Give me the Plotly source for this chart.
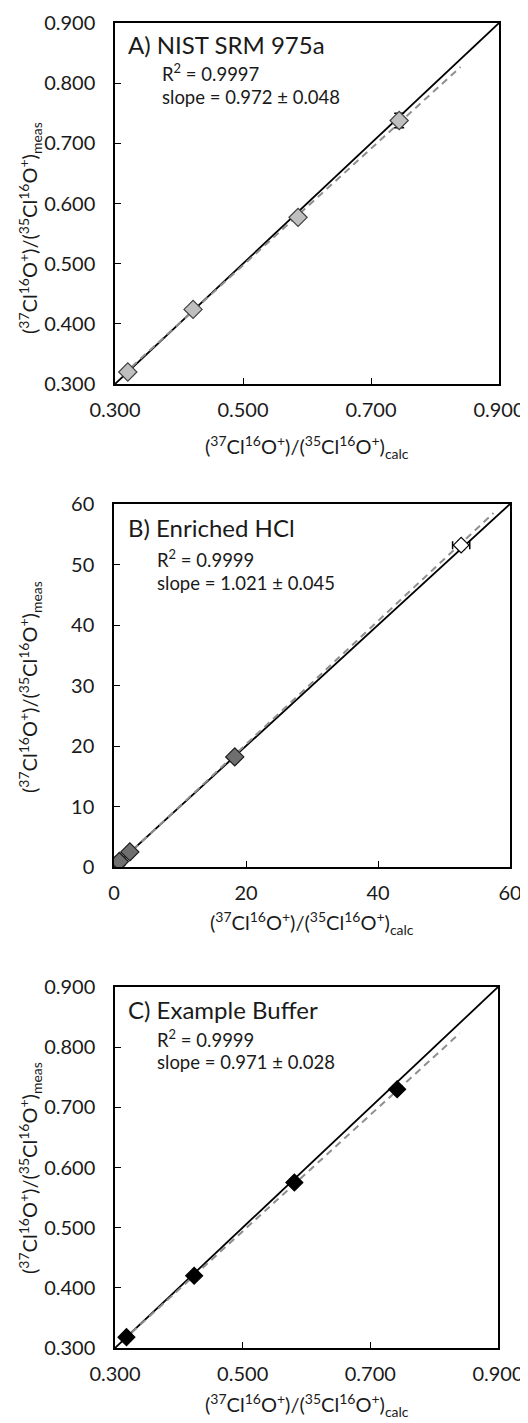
import plotly.graph_objects as go

# The page body has an 8px margin, so the figure is 16px smaller than the window
OFF = 8
W, H = 528 - OFF, 1423 - OFF

# ---------------- data ----------------
A_calc = [0.320, 0.422, 0.586, 0.744]
A_meas = [0.320, 0.424, 0.577, 0.738]
A_yerr = [0.0, 0.0, 0.0, 0.012]
A_fit_x = [0.312, 0.840]
A_fit_y = [0.315, 0.827]

B_calc = [0.33, 0.80, 2.4, 18.3]
B_meas = [0.35, 0.90, 2.5, 18.2]
B_open_calc = [52.6]
B_open_meas = [53.2]
B_open_xerr = [1.3]
B_open_yerr = [0.7]
B_fit_x = [0.2, 57.5]
B_fit_y = [0.1, 58.5]

C_calc = [0.318, 0.424, 0.581, 0.742]
C_meas = [0.318, 0.420, 0.575, 0.730]
C_fit_x = [0.312, 0.840]
C_fit_y = [0.312, 0.823]

ref_small = [0.3, 0.9]
ref_big = [0, 60]

ticks_small_x = [0.3, 0.5, 0.7, 0.9]
ticks_small_y = [0.3, 0.4, 0.5, 0.6, 0.7, 0.8, 0.9]
ticks_big = [0, 10, 20, 30, 40, 50, 60]
ticks_big_x = [0, 20, 40, 60]

titles = ["A) NIST SRM 975a", "B) Enriched HCl", "C) Example Buffer"]
r2 = ["R<sup>2</sup> = 0.9997", "R<sup>2</sup> = 0.9999", "R<sup>2</sup> = 0.9999"]
slopes = ["slope = 0.972 ± 0.048", "slope = 1.021 ± 0.045", "slope = 0.971 ± 0.028"]

xtitle = "(<sup>37</sup>Cl<sup>16</sup>O<sup>+</sup>)/(<sup>35</sup>Cl<sup>16</sup>O<sup>+</sup>)<sub>calc</sub>"
ytitle = "(<sup>37</sup>Cl<sup>16</sup>O<sup>+</sup>)/(<sup>35</sup>Cl<sup>16</sup>O<sup>+</sup>)<sub>meas</sub>"

FONT = "Lato"

# pixel boxes of plot areas in window coords (left, right, top, bottom)
boxes = [(115, 499, 23, 384), (114, 510, 504, 867), (115, 498, 987, 1348)]

fig = go.Figure()

def px2paper_x(px):
    return (px - OFF) / W

def px2paper_y(py):
    return 1 - (py - OFF) / H

axis_names = [("x", "y"), ("x2", "y2"), ("x3", "y3")]

def add_panel(i, ref, fitx, fity, calc, meas, fill, line, size, yerr=None):
    xa, ya = axis_names[i]
    fig.add_trace(go.Scatter(x=ref, y=ref, mode="lines", line=dict(color="black", width=1.8),
                             xaxis=xa, yaxis=ya, showlegend=False, hoverinfo="skip"))
    fig.add_trace(go.Scatter(x=fitx, y=fity, mode="lines",
                             line=dict(color="#8f8f8f", width=2, dash="7px,5px"),
                             xaxis=xa, yaxis=ya, showlegend=False, hoverinfo="skip"))
    err = None
    if yerr is not None:
        err = dict(type="data", array=yerr, color="black", thickness=1.5, width=5)
    fig.add_trace(go.Scatter(x=calc, y=meas, mode="markers",
                             marker=dict(symbol="diamond", size=size, color=fill,
                                         line=dict(color=line, width=1.2)),
                             error_y=err, xaxis=xa, yaxis=ya, showlegend=False))

add_panel(0, ref_small, A_fit_x, A_fit_y, A_calc, A_meas, "#bfbfbf", "#404040", 14, A_yerr)
add_panel(1, ref_big, B_fit_x, B_fit_y, B_calc, B_meas, "#6f6f6f", "#1a1a1a", 14)
fig.add_trace(go.Scatter(x=B_open_calc, y=B_open_meas, mode="markers",
                         marker=dict(symbol="diamond", size=12, color="white",
                                     line=dict(color="black", width=1.2)),
                         error_x=dict(type="data", array=B_open_xerr, color="black", thickness=1.5, width=4),
                         error_y=dict(type="data", array=B_open_yerr, color="black", thickness=1.5, width=4),
                         xaxis="x2", yaxis="y2", showlegend=False))
add_panel(2, ref_small, C_fit_x, C_fit_y, C_calc, C_meas, "black", "black", 13)

axcommon = dict(showgrid=False, zeroline=False, showline=True, linecolor="black", linewidth=1.5,
                mirror=True, ticks="inside", ticklen=6, tickwidth=1.2, tickcolor="black",
                tickfont=dict(family=FONT, size=20, color="#1a1a1a"))

layout = dict(width=W, height=H, margin=dict(l=0, r=0, t=0, b=0, autoexpand=False),
              paper_bgcolor="white", plot_bgcolor="white", font=dict(family=FONT))

ranges = [((0.3, 0.9), (0.3, 0.9)), ((0, 60), (0, 60)), ((0.3, 0.9), (0.3, 0.9))]
xt = [ticks_small_x, ticks_big_x, ticks_small_x]
yt = [ticks_small_y, ticks_big, ticks_small_y]
fmt = [".3f", "d", ".3f"]

for i, (l, r, t, b) in enumerate(boxes):
    sfx = "" if i == 0 else str(i + 1)
    layout["xaxis" + sfx] = dict(axcommon, domain=[px2paper_x(l), px2paper_x(r)],
                                 range=list(ranges[i][0]), tickvals=xt[i], tickformat=fmt[i],
                                 anchor="y" + sfx, ticklabelstandoff=7)
    layout["yaxis" + sfx] = dict(axcommon, domain=[px2paper_y(b), px2paper_y(t)],
                                 range=list(ranges[i][1]), tickvals=yt[i], tickformat=fmt[i],
                                 anchor="x" + sfx, ticklabelstandoff=14)

fig.update_layout(**layout)

# annotation positions (window pixels)
title_y = [44, 527, 1010]
r2_xy = [(160, 72), (155, 558), (155, 1038)]
slope_y = [97, 583, 1062]
xtitle_y = [447, 923, 1405]
ytitle_cy = [228, 687, 1168]

for i in range(3):
    l, r, t, b = boxes[i]
    fig.add_annotation(text=titles[i], xref="paper", yref="paper",
                       x=px2paper_x(126), y=px2paper_y(title_y[i]), xanchor="left", yanchor="middle",
                       showarrow=False, font=dict(family=FONT, size=24, color="#1a1a1a"))
    fig.add_annotation(text=r2[i], xref="paper", yref="paper",
                       x=px2paper_x(r2_xy[i][0]), y=px2paper_y(r2_xy[i][1]), xanchor="left", yanchor="middle",
                       showarrow=False, font=dict(family=FONT, size=18.5, color="#1a1a1a"))
    fig.add_annotation(text=slopes[i], xref="paper", yref="paper",
                       x=px2paper_x(r2_xy[i][0]), y=px2paper_y(slope_y[i]), xanchor="left", yanchor="middle",
                       showarrow=False, font=dict(family=FONT, size=18.5, color="#1a1a1a"))
    fig.add_annotation(text=xtitle, xref="paper", yref="paper",
                       x=px2paper_x((l + r) / 2), y=px2paper_y(xtitle_y[i]), xanchor="center", yanchor="middle",
                       showarrow=False, font=dict(family=FONT, size=20, color="#1a1a1a"))
    fig.add_annotation(text=ytitle, xref="paper", yref="paper", textangle=-90,
                       x=px2paper_x(30), y=px2paper_y(ytitle_cy[i]), xanchor="center", yanchor="middle",
                       showarrow=False, font=dict(family=FONT, size=20, color="#1a1a1a"))

fig.write_html("out.html")
